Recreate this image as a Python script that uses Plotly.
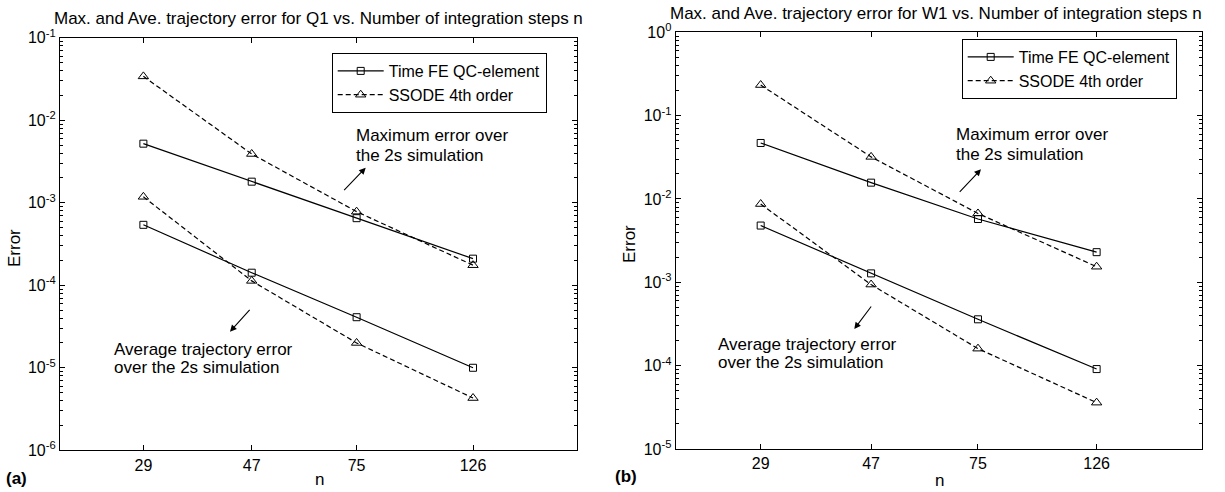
import plotly.graph_objects as go

# ---------------- data ----------------
n_steps = [29, 47, 75, 126]
n_labels = ["29", "47", "75", "126"]

q1_fe_max = [5.2e-3, 1.8e-3, 6.5e-4, 2.1e-4]
q1_fe_ave = [5.4e-4, 1.42e-4, 4.1e-5, 1.0e-5]
q1_ss_max = [3.4e-2, 3.9e-3, 7.8e-4, 1.75e-4]
q1_ss_ave = [1.18e-3, 1.13e-4, 2.0e-5, 4.3e-6]

w1_fe_max = [4.7e-2, 1.57e-2, 5.75e-3, 2.3e-3]
w1_fe_ave = [4.8e-3, 1.28e-3, 3.6e-4, 9.1e-5]
w1_ss_max = [0.233, 3.2e-2, 6.7e-3, 1.54e-3]
w1_ss_ave = [8.7e-3, 9.4e-4, 1.6e-4, 3.6e-5]

q1_decades = [-6, -5, -4, -3, -2, -1]
w1_decades = [-5, -4, -3, -2, -1, 0]

series_names = ["Time FE QC-element", "SSODE 4th order"]

W, H = 1225, 492
FONT = "Liberation Sans, Arial, Helvetica, sans-serif"

fig = go.Figure()


def px2x(px):
    return px / W


def px2y(py):
    return 1 - py / H


def add_panel(xa, ya, legend, fe_max, fe_ave, ss_max, ss_ave):
    fe_line = dict(color="black", width=1.2)
    ss_line = dict(color="black", width=1.2, dash="5px,3px")
    fe_marker = dict(symbol="square-open", size=7, color="black", line=dict(width=1, color="black"))
    ss_marker = dict(symbol="triangle-up-open", size=9, color="black", line=dict(width=1, color="black"))
    for i, ys in enumerate([fe_max, fe_ave]):
        fig.add_trace(go.Scatter(x=n_steps, y=ys, mode="lines+markers", name=series_names[0],
                                 line=fe_line, marker=fe_marker, xaxis=xa, yaxis=ya,
                                 legend=legend, showlegend=(i == 0)))
    for i, ys in enumerate([ss_max, ss_ave]):
        fig.add_trace(go.Scatter(x=n_steps, y=ys, mode="lines+markers", name=series_names[1],
                                 line=ss_line, marker=ss_marker, xaxis=xa, yaxis=ya,
                                 legend=legend, showlegend=(i == 0)))


add_panel("x", "y", "legend", q1_fe_max, q1_fe_ave, q1_ss_max, q1_ss_ave)
add_panel("x2", "y2", "legend2", w1_fe_max, w1_fe_ave, w1_ss_max, w1_ss_ave)


def xaxis_cfg(domain, anchor):
    return dict(type="log", range=[1.30103, 2.30103], domain=domain, anchor=anchor,
                tickvals=n_steps, ticktext=n_labels, ticks="inside", ticklen=5,
                tickcolor="black", showline=True, linecolor="black", linewidth=1.2,
                mirror="ticks", showgrid=False, zeroline=False, automargin=False,
                tickfont=dict(family=FONT, size=16, color="black"))


def yaxis_cfg(domain, anchor, decades):
    minor_vals = [m * 10 ** d for d in decades[:-1] for m in range(2, 10)]
    return dict(type="log", range=[decades[0], decades[-1]], domain=domain, anchor=anchor,
                tickvals=[10 ** d for d in decades],
                ticktext=["10<sup>%d</sup>" % d for d in decades],
                ticks="inside", ticklen=5, tickcolor="black",
                minor=dict(tickvals=minor_vals, ticks="inside", ticklen=3, tickcolor="black", showgrid=False),
                showline=True, linecolor="black", linewidth=1.2, mirror="ticks",
                showgrid=False, zeroline=False, automargin=False,
                tickfont=dict(family=FONT, size=16, color="black"))


legend_common = dict(xanchor="right", yanchor="top", bordercolor="black", borderwidth=1,
                     bgcolor="white", font=dict(family=FONT, size=16, color="black"),
                     tracegroupgap=0, itemwidth=46, traceorder="normal")

fig.update_layout(
    width=W, height=H, autosize=False,
    margin=dict(l=0, r=0, t=0, b=0, pad=0, autoexpand=False),
    paper_bgcolor="white", plot_bgcolor="white",
    font=dict(family=FONT, size=16, color="black"),
    xaxis=xaxis_cfg([px2x(60), px2x(576.7)], "y"),
    yaxis=yaxis_cfg([px2y(450.3), px2y(37.7)], "x", q1_decades),
    xaxis2=xaxis_cfg([px2x(675.7), px2x(1202.3)], "y2"),
    yaxis2=yaxis_cfg([px2y(449), px2y(32.3)], "x2", w1_decades),
    legend=dict(x=px2x(546.7), y=px2y(53), **legend_common),
    legend2=dict(x=px2x(1176.7), y=px2y(39), **legend_common),
    showlegend=True,
    hovermode=False,
)

ann = []


def text(x, y, s, size=17, xanchor="left", bold=False, angle=0):
    ann.append(dict(x=px2x(x), y=px2y(y), xref="paper", yref="paper", text=("<b>%s</b>" % s) if bold else s,
                    showarrow=False, xanchor=xanchor, yanchor="middle", textangle=angle,
                    borderpad=0, font=dict(family=FONT, size=size, color="black")))


def arrow(tx, ty, hx, hy):
    ann.append(dict(x=px2x(hx), y=px2y(hy), xref="paper", yref="paper", ax=tx - hx, ay=ty - hy,
                    axref="pixel", ayref="pixel", text="", showarrow=True, arrowhead=2,
                    arrowsize=1.2, arrowwidth=1.1, arrowcolor="black"))


# titles
text(318.3, 19, "Max. and Ave. trajectory error for Q1 vs. Number of integration steps n", xanchor="center")
text(936, 14, "Max. and Ave. trajectory error for W1 vs. Number of integration steps n", xanchor="center")
# axis titles
text(319, 479, "n", xanchor="center")
text(939, 480, "n", xanchor="center")
text(15, 248, "Error", xanchor="center", angle=-90)
text(630, 244, "Error", xanchor="center", angle=-90)
# panel labels
text(5, 478, "(a)", bold=True)
text(614, 476, "(b)", bold=True)
# notes panel a
text(355, 136, "Maximum error over")
text(355, 155.5, "the 2s simulation")
arrow(342.7, 191.7, 365.7, 167.7)
text(113.3, 349, "Average trajectory error")
text(113.3, 367.5, "over the 2s simulation")
arrow(251, 308.3, 230, 331.7)
# notes panel b
text(955, 134, "Maximum error over")
text(955, 154, "the 2s simulation")
arrow(958.3, 193.3, 981, 169.3)
text(716.7, 344, "Average trajectory error")
text(716.7, 362.7, "over the 2s simulation")
arrow(872.3, 305, 854.3, 329)

fig.update_layout(annotations=ann)
fig.write_html("out.html", config={"displayModeBar": False, "staticPlot": False},
               post_script="document.body.style.margin='0px';")
